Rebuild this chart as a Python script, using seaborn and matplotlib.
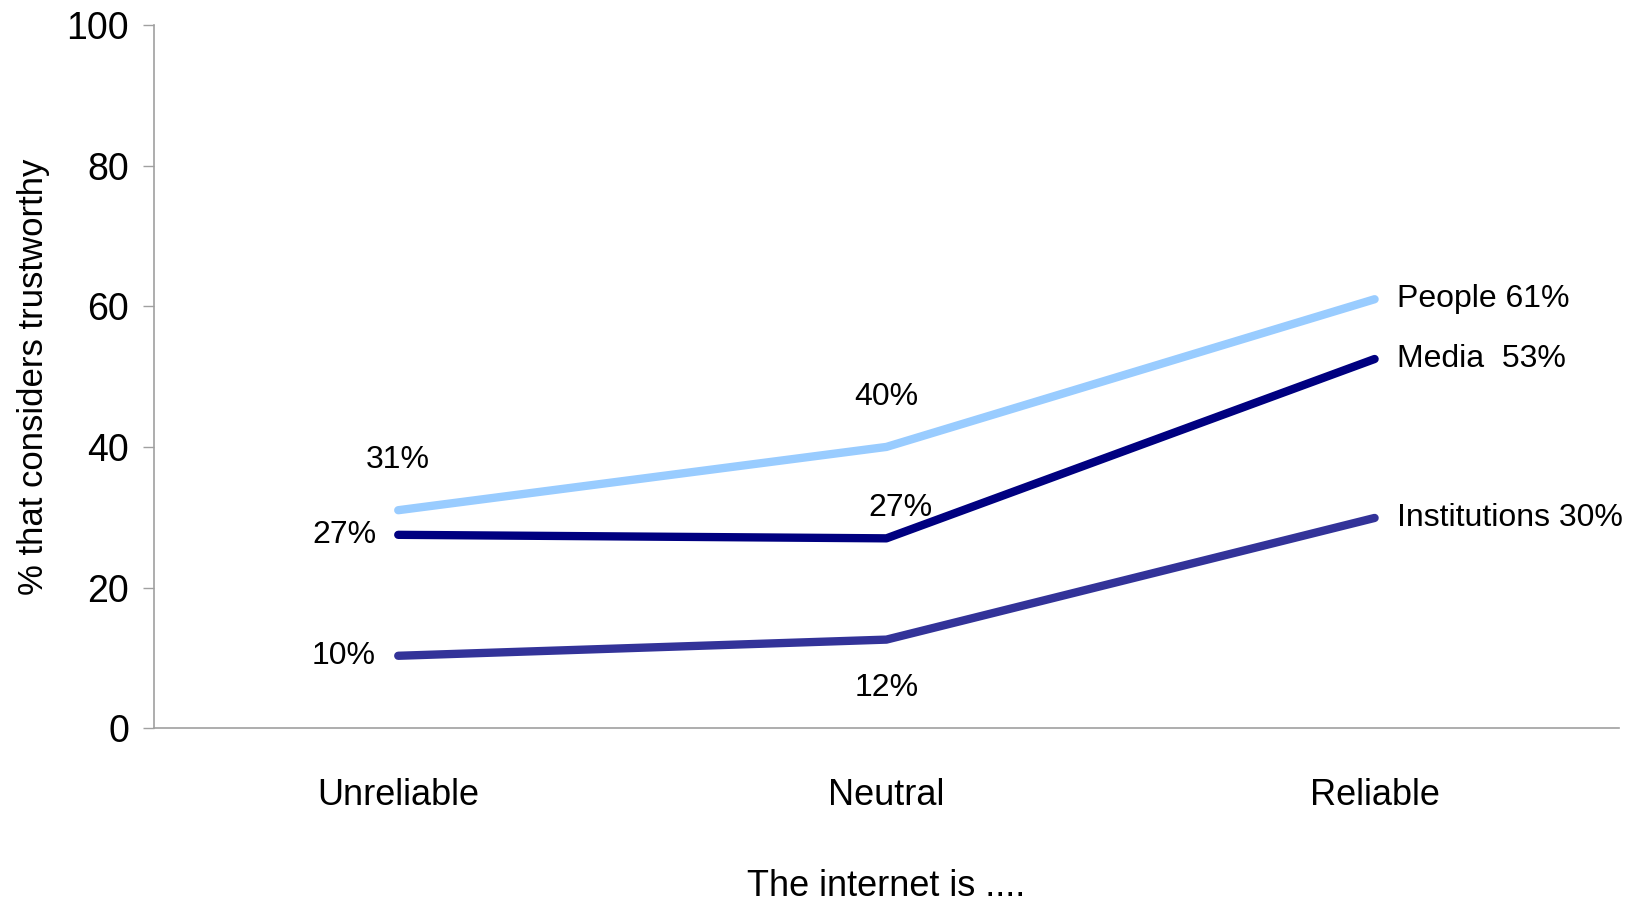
import matplotlib
matplotlib.use("Agg")
import matplotlib.pyplot as plt
from matplotlib import font_manager
import seaborn as sns
import pandas as pd

categories = ["Unreliable", "Neutral", "Reliable"]
people = [31, 40, 61]
media = [27.5, 27, 52.5]
institutions = [10.3, 12.6, 29.9]
series_names = ["People", "Media", "Institutions"]
people_labels = ["31%", "40%", "People 61%"]
media_labels = ["27%", "27%", "Media  53%"]
inst_labels = ["10%", "12%", "Institutions 30%"]
yticks = [0, 20, 40, 60, 80, 100]

names = {f.name for f in font_manager.fontManager.ttflist}
narrow = "Liberation Sans Narrow" if "Liberation Sans Narrow" in names else "Liberation Sans"

sns.set_style("white")
plt.rcParams["font.family"] = [narrow, "DejaVu Sans"]
plt.rcParams["text.color"] = "black"
plt.rcParams["xtick.color"] = "black"
plt.rcParams["ytick.color"] = "black"
plt.rcParams["axes.labelcolor"] = "black"

rows = []
for name, vals in zip(series_names, [people, media, institutions]):
    for i, (c, v) in enumerate(zip(categories, vals)):
        rows.append({"cat": i, "val": v, "series": name})
df = pd.DataFrame(rows)

palette = {"People": "#99CCFF", "Media": "#000080", "Institutions": "#333399"}

fig = plt.figure(figsize=(16.4, 9.08), dpi=100)
ax = fig.add_axes([0.094, 0.198, 0.893, 0.7745])
sns.lineplot(data=df, x="cat", y="val", hue="series", palette=palette,
             linewidth=6, legend=False, ax=ax, solid_capstyle="round")

ax.set_xlim(-0.5, 2.5)
ax.set_ylim(0, 100)
ax.set_yticks(yticks)
ax.set_yticklabels([str(t) for t in yticks], fontsize=27)
ax.set_xticks(range(len(categories)))
ax.set_xticklabels(categories, fontsize=26)
ax.set_xticks([-0.5, 0.5, 1.5, 2.5], minor=True)
ax.tick_params(axis="x", which="major", length=0, pad=36)
ax.tick_params(axis="x", which="minor", length=12, width=1, color="#A0A0A0", direction="out")
ax.tick_params(axis="y", length=8, width=1, color="#A0A0A0", labelcolor="black", direction="out", pad=10, left=True)
for s in ["top", "right"]:
    ax.spines[s].set_visible(False)
for s in ["left", "bottom"]:
    ax.spines[s].set_color("#A0A0A0")
    ax.spines[s].set_linewidth(1.2)

ax.set_ylabel("% that considers trustworthy", fontsize=25, family=["Liberation Sans", "DejaVu Sans"], labelpad=12)
ax.set_xlabel("The internet is ....", fontsize=26, labelpad=40)

fs = 23
# People labels
ax.annotate(people_labels[0], (0, people[0]), xytext=(0, 36), textcoords="offset points", ha="center", va="center", fontsize=fs)
ax.annotate(people_labels[1], (1, people[1]), xytext=(0, 36), textcoords="offset points", ha="center", va="center", fontsize=fs)
ax.annotate(people_labels[2], (2, people[2]), xytext=(16, 0), textcoords="offset points", ha="left", va="center", fontsize=fs)
# Media labels
ax.annotate(media_labels[0], (0, media[0]), xytext=(-16, 0), textcoords="offset points", ha="right", va="center", fontsize=fs)
ax.annotate(media_labels[1], (1, media[1]), xytext=(10, 22), textcoords="offset points", ha="center", va="center", fontsize=fs)
ax.annotate(media_labels[2], (2, media[2]), xytext=(16, 0), textcoords="offset points", ha="left", va="center", fontsize=fs)
# Institutions labels
ax.annotate(inst_labels[0], (0, institutions[0]), xytext=(-16, 0), textcoords="offset points", ha="right", va="center", fontsize=fs)
ax.annotate(inst_labels[1], (1, institutions[1]), xytext=(0, -35), textcoords="offset points", ha="center", va="center", fontsize=fs)
ax.annotate(inst_labels[2], (2, institutions[2]), xytext=(16, 0), textcoords="offset points", ha="left", va="center", fontsize=fs)

fig.savefig("out.png", dpi=100)
